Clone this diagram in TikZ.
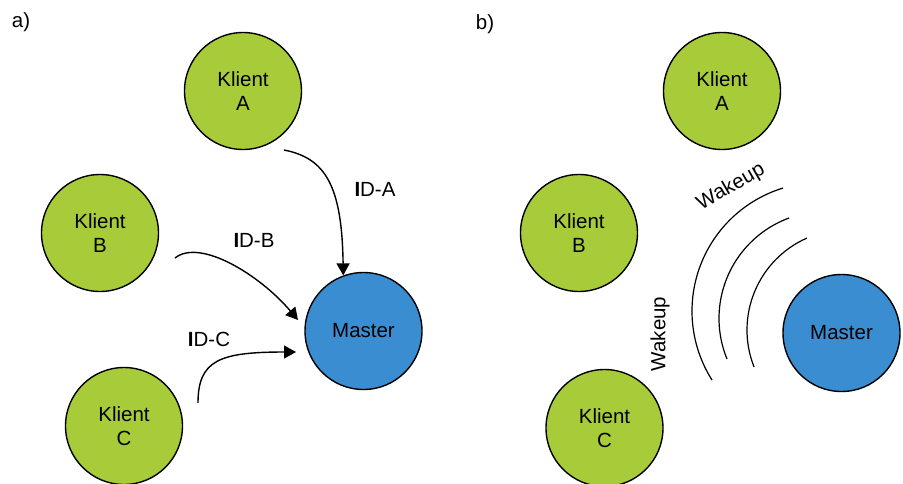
\documentclass[tikz,border=0pt]{standalone}
\usepackage{fontspec}
\setmainfont{Liberation Sans}
\usetikzlibrary{arrows.meta}
\definecolor{kgreen}{RGB}{168,203,58}
\definecolor{mblue}{RGB}{58,141,208}
\tikzset{
  base/.style={circle, draw=black, line width=1.4pt, minimum size=117pt, inner sep=0pt, align=center, font=\fontsize{20.5}{24}\selectfont},
  klient/.style={base, fill=kgreen},
  master/.style={base, fill=mblue},
  lbl/.style={font=\fontsize{20.5}{24}\selectfont, inner sep=0pt},
  conn/.style={line width=1.4pt, -{Triangle[width=13pt,length=12pt]}},
  wave/.style={line width=1.2pt}
}
\begin{document}
\begin{tikzpicture}[x=1pt,y=1pt]
\useasboundingbox (0,0) rectangle (903,-483);
% panel a
\node[lbl] (la) at (21,-22) {a)};
\node[klient] (KA) at (243,-91) {Klient\\A};
\node[klient] (KB) at (100,-233) {Klient\\B};
\node[klient] (KC) at (124,-426) {Klient\\C};
\node[master] (M) at (363.5,-331) {Master};
\coordinate (aS) at (284,-150);
\coordinate (bS) at (175,-258);
\coordinate (bE) at (298,-320);
\coordinate (cS) at (198,-403);
\coordinate (cE) at (296,-352);
\draw[conn] (aS) .. controls (325,-158) and (342,-185) .. (M.110.3);
\draw[conn] (bS) .. controls (200,-238) and (260,-275) .. (bE);
\draw[conn] (cS) .. controls (198,-360) and (220,-352) .. (cE);
\node[lbl] (ida) at (375,-189) {\textbf{I}D-A};
\node[lbl] (idb) at (254,-240) {\textbf{I}D-B};
\node[lbl] (idc) at (209,-339) {\textbf{I}D-C};
% panel b
\node[lbl] (lb) at (485,-24) {b)};
\node[klient] (KA2) at (722,-91) {Klient\\A};
\node[klient] (KB2) at (579,-233) {Klient\\B};
\node[klient] (KC2) at (604.5,-428) {Klient\\C};
\node[master] (M2) at (841.5,-333) {Master};
\draw[wave] ([shift={(107:128.7)}]820.7,-311.1) arc[start angle=107,end angle=212.4,radius=128.7];
\draw[wave] ([shift={(110.2:107)}]826,-318.4) arc[start angle=110.2,end angle=202.3,radius=107];
\draw[wave] ([shift={(113.8:100.5)}]847.5,-330) arc[start angle=113.8,end angle=201.6,radius=100.5];
\node[lbl, rotate=30] (w1) at (731,-187) {Wakeup};
\node[lbl, rotate=90] (w2) at (660,-334) {Wakeup};
\end{tikzpicture}
\end{document}
